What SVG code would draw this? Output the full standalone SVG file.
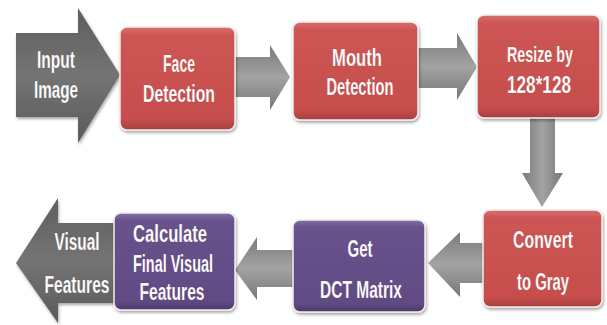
<svg xmlns="http://www.w3.org/2000/svg" width="607" height="325" viewBox="0 0 607 325">
<defs>
<linearGradient id="red" x1="0" y1="0" x2="0" y2="1"><stop offset="0" stop-color="#D8716F"/><stop offset="0.08" stop-color="#CD5553"/><stop offset="0.9" stop-color="#C64E4C"/><stop offset="1" stop-color="#A83E3D"/></linearGradient>
<linearGradient id="pur" x1="0" y1="0" x2="0" y2="1"><stop offset="0" stop-color="#8470A4"/><stop offset="0.08" stop-color="#68528C"/><stop offset="0.9" stop-color="#614B84"/><stop offset="1" stop-color="#4C3A6A"/></linearGradient>
<linearGradient id="dk" x1="0" y1="0" x2="0" y2="1"><stop offset="0" stop-color="#5E5E5E"/><stop offset="0.5" stop-color="#747474"/><stop offset="1" stop-color="#5A5A5A"/></linearGradient>
<linearGradient id="lg" x1="0" y1="0" x2="0" y2="1"><stop offset="0" stop-color="#7A7A7A"/><stop offset="0.5" stop-color="#A3A3A3"/><stop offset="1" stop-color="#777777"/></linearGradient>
<linearGradient id="lgv" x1="0" y1="0" x2="1" y2="0"><stop offset="0" stop-color="#7A7A7A"/><stop offset="0.5" stop-color="#A3A3A3"/><stop offset="1" stop-color="#777777"/></linearGradient>
<filter id="sh" x="-10%" y="-10%" width="125%" height="125%"><feDropShadow dx="1" dy="2" stdDeviation="1.5" flood-color="#000" flood-opacity="0.35"/></filter>
</defs>
<style>
.box{stroke:#EEEEEE;stroke-width:1.5;filter:url(#sh)}
.r{fill:url(#red)}
.p{fill:url(#pur)}
text{font-family:"Liberation Sans",Arial,sans-serif;font-weight:bold;font-size:24px;fill:#FFFFFF;text-anchor:middle;stroke:#5A2A2A;stroke-opacity:0.25;stroke-width:0.6}
</style>
<g id="connectors">
<polygon points="235,57 270,57 270,45 290,77 270,110 270,97 235,97" fill="url(#lg)"/>
<polygon points="418,48 457,48 457,33 477,67 457,100 457,88 418,88" fill="url(#lg)"/>
<polygon points="530,118 555,118 555,173 563,173 542,207 522,173 530,173" fill="url(#lgv)"/>
<polygon points="483,243 460,243 460,232 428,263 460,297 460,283 483,283" fill="url(#lg)"/>
<polygon points="293,250 257,250 257,237 235,270 257,300 257,287 293,287" fill="url(#lg)"/>
</g>
<g id="input">
<polygon points="16,33 78,33 78,8 120,75 78,143 78,117 16,117" fill="url(#dk)" filter="url(#sh)"/>
<text x="56" y="68" textLength="38" lengthAdjust="spacingAndGlyphs">Input</text>
<text x="56" y="98" textLength="44" lengthAdjust="spacingAndGlyphs">Image</text>
</g>
<g id="visual">
<polygon points="116,223 58,223 58,198 16,263 58,323 58,303 116,303" fill="url(#dk)" filter="url(#sh)"/>
<text x="77" y="250" textLength="45" lengthAdjust="spacingAndGlyphs">Visual</text>
<text x="77" y="293" textLength="65" lengthAdjust="spacingAndGlyphs">Features</text>
</g>
<g id="face">
<rect class="box r" x="120" y="27" width="115" height="103" rx="7"/>
<text x="179" y="72" textLength="32" lengthAdjust="spacingAndGlyphs">Face</text>
<text x="179" y="102" textLength="72" lengthAdjust="spacingAndGlyphs">Detection</text>
</g>
<g id="mouth">
<rect class="box r" x="293" y="22" width="125" height="98" rx="7"/>
<text x="357" y="66" textLength="50" lengthAdjust="spacingAndGlyphs">Mouth</text>
<text x="360" y="95" textLength="67" lengthAdjust="spacingAndGlyphs">Detection</text>
</g>
<g id="resize">
<rect class="box r" x="477" y="15" width="123" height="103" rx="7"/>
<text x="540" y="62" font-size="22" style="font-size:22px" textLength="66" lengthAdjust="spacingAndGlyphs">Resize by</text>
<text x="539" y="93" textLength="64" lengthAdjust="spacingAndGlyphs">128*128</text>
</g>
<g id="convert">
<rect class="box r" x="483" y="210" width="119" height="97" rx="7"/>
<text x="543" y="248" textLength="60" lengthAdjust="spacingAndGlyphs">Convert</text>
<text x="543" y="290" textLength="52" lengthAdjust="spacingAndGlyphs">to Gray</text>
</g>
<g id="dct">
<rect class="box p" x="293" y="220" width="132" height="92" rx="7"/>
<text x="360" y="257" textLength="25" lengthAdjust="spacingAndGlyphs">Get</text>
<text x="361" y="298" textLength="82" lengthAdjust="spacingAndGlyphs">DCT Matrix</text>
</g>
<g id="calculate">
<rect class="box p" x="114" y="213" width="121" height="97" rx="7"/>
<text x="170" y="242" textLength="74" lengthAdjust="spacingAndGlyphs">Calculate</text>
<text x="173" y="272" textLength="80" lengthAdjust="spacingAndGlyphs">Final Visual</text>
<text x="172" y="300" textLength="65" lengthAdjust="spacingAndGlyphs">Features</text>
</g>
</svg>
